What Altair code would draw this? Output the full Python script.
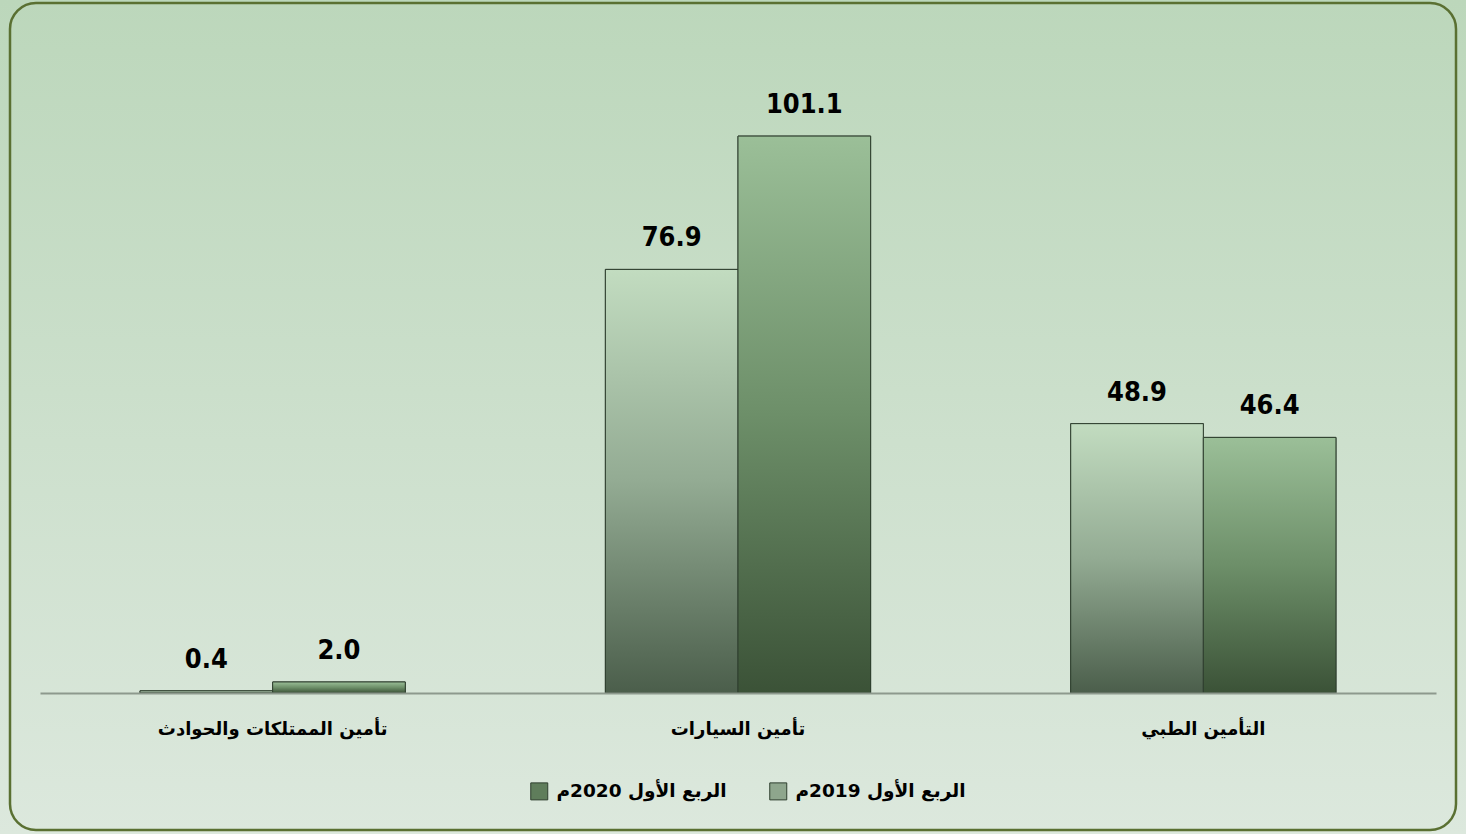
import altair as alt
import pandas as pd

categories = ["تأمين الممتلكات والحوادث", "تأمين السيارات", "التأمين الطبي"]
series = ["الربع الأول 2019م", "الربع الأول 2020م"]
values_2019 = [0.4, 76.9, 48.9]
values_2020 = [2.0, 101.1, 46.4]

rows = []
for c, v in zip(categories, values_2019):
    rows.append({"cat": c, "series": series[0], "value": v})
for c, v in zip(categories, values_2020):
    rows.append({"cat": c, "series": series[1], "value": v})
df = pd.DataFrame(rows)

W, H = 1396, 661
LAT = "DejaVu Sans Condensed"
AR = "DejaVu Sans"


def grad(top, bottom, mid=None):
    stops = [alt.GradientStop(color=top, offset=0)]
    if mid:
        stops.append(alt.GradientStop(color=mid, offset=0.5))
    stops.append(alt.GradientStop(color=bottom, offset=1))
    return alt.Gradient(gradient="linear", stops=stops, x1=0, x2=0, y1=0, y2=1)


g2019 = grad("#c2dcc0", "#4b5e4b", "#93ab93")
g2020 = grad("#9bbf98", "#3b5237", "#6d8f69")
bg = grad("#bcd7bb", "#dce8dd")

x = alt.X(
    "cat:N",
    sort=categories,
    scale=alt.Scale(paddingInner=0.43, paddingOuter=0.215),
    axis=alt.Axis(
        title=None, labelAngle=0, ticks=False, domainColor="#8d998d", domainWidth=2,
        labelFont=AR, labelFontSize=18, labelFontWeight="bold", labelColor="black",
        labelPadding=27, labelLimit=500, zindex=1,
    ),
)
xo = alt.XOffset("series:N", sort=series, scale=alt.Scale(domain=series, paddingInner=0, paddingOuter=0))
y = alt.Y("value:Q", scale=alt.Scale(domain=[0, 120]), axis=None)

one = pd.DataFrame({"a": [0]})
background = alt.Chart(one).mark_rect(fill=bg).encode(
    x=alt.value(-40), x2=alt.value(W + 30), y=alt.value(-32), y2=alt.value(H + 141)
)
frame = alt.Chart(one).mark_rect(
    fill="transparent", stroke="#5a7032", strokeWidth=2.5, cornerRadius=26
).encode(x=alt.value(-30), x2=alt.value(W + 20), y=alt.value(-29), y2=alt.value(H + 137))

base = alt.Chart(df)
legend_bars = base.mark_bar(stroke="#2f3f2f", strokeWidth=1).encode(
    x=x, xOffset=xo, y=y,
    color=alt.Color(
        "series:N",
        scale=alt.Scale(domain=[series[1], series[0]], range=["#5f7d5b", "#8ea68d"]),
        legend=alt.Legend(
            title=None, orient="none", legendX=490, legendY=750, direction="horizontal",
            symbolType="square", symbolSize=289, symbolStrokeColor="#2f3f2f", symbolStrokeWidth=1,
            symbolOpacity=1, labelFont=AR, labelFontSize=18.5, labelFontWeight="bold",
            labelColor="black", labelLimit=400, columnPadding=40, labelOffset=8,
        ),
    ),
)
grad_bars = base.mark_bar(stroke="#2f3f2f", strokeWidth=1).encode(
    x=x, xOffset=xo, y=y,
    fill=alt.condition(alt.datum.series == series[0], alt.value(g2019), alt.value(g2020)),
)
labels = base.mark_text(
    font=LAT, fontSize=27, fontWeight="bold", color="black", dy=-31, baseline="middle"
).encode(x=x, xOffset=xo, y=y, text=alt.Text("value:Q", format=".1f"))

chart = alt.layer(background, frame, legend_bars, grad_bars, labels).properties(
    width=W, height=H,
    autosize=alt.AutoSizeParams(type="none"),
    padding={"left": 40, "top": 32, "right": 30, "bottom": 141},
    background="#cadfca",
).configure_view(stroke=None)

chart.save("out.html", embed_options={"renderer": "svg", "actions": False})
